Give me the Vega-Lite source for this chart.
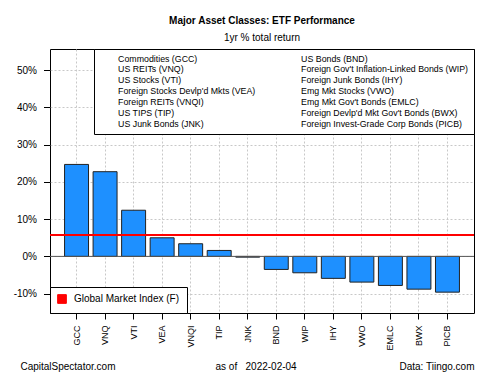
{
  "$schema": "https://vega.github.io/schema/vega-lite/v6.json",
  "width": 424,
  "height": 264,
  "autosize": {"type": "none"},
  "padding": {"left": 50, "top": 49, "right": 26, "bottom": 62},
  "background": "white",
  "config": {
    "font": "Liberation Sans",
    "view": {"stroke": "black", "strokeWidth": 1}
  },
  "title": {
    "text": "Major Asset Classes: ETF Performance",
    "subtitle": "1yr % total return",
    "font": "Liberation Sans",
    "subtitleFont": "Liberation Sans",
    "fontSize": 10,
    "fontWeight": "bold",
    "subtitleFontSize": 10,
    "color": "black",
    "subtitleColor": "black",
    "anchor": "middle",
    "offset": 6,
    "subtitlePadding": 7
  },
  "datasets": {
    "etf": [
      {"ticker": "GCC", "name": "Commodities (GCC)", "ret": 24.7},
      {"ticker": "VNQ", "name": "US REITs (VNQ)", "ret": 22.75},
      {"ticker": "VTI", "name": "US Stocks (VTI)", "ret": 12.4},
      {"ticker": "VEA", "name": "Foreign Stocks Devlp'd Mkts (VEA)", "ret": 5.0},
      {"ticker": "VNQI", "name": "Foreign REITs (VNQI)", "ret": 3.4},
      {"ticker": "TIP", "name": "US TIPS (TIP)", "ret": 1.6},
      {"ticker": "JNK", "name": "US Junk Bonds (JNK)", "ret": -0.2},
      {"ticker": "BND", "name": "US Bonds (BND)", "ret": -3.5},
      {"ticker": "WIP", "name": "Foreign Gov't Inflation-Linked Bonds (WIP)", "ret": -4.4},
      {"ticker": "IHY", "name": "Foreign Junk Bonds (IHY)", "ret": -5.9},
      {"ticker": "VWO", "name": "Emg Mkt Stocks (VWO)", "ret": -6.9},
      {"ticker": "EMLC", "name": "Emg Mkt Gov't Bonds (EMLC)", "ret": -7.8},
      {"ticker": "BWX", "name": "Foreign Devlp'd Mkt Gov't Bonds (BWX)", "ret": -8.8},
      {"ticker": "PICB", "name": "Foreign Invest-Grade Corp Bonds (PICB)", "ret": -9.6}
    ],
    "gmi": [{"name": "Global Market Index (F)", "ret": 5.75}],
    "zero": [{"v": 0}]
  },
  "layer": [
    {
      "data": {"name": "etf"},
      "mark": {"type": "bar", "fill": "#1E90FF", "stroke": "#222222", "strokeWidth": 1},
      "encoding": {
        "x": {
          "field": "ticker",
          "type": "nominal",
          "sort": null,
          "scale": {"paddingInner": 0.16, "paddingOuter": 0.51},
          "axis": {
            "title": "CapitalSpectator.com\u00a0\u00a0\u00a0\u00a0\u00a0\u00a0\u00a0\u00a0\u00a0\u00a0\u00a0\u00a0\u00a0\u00a0\u00a0\u00a0\u00a0\u00a0\u00a0\u00a0\u00a0\u00a0\u00a0\u00a0\u00a0\u00a0\u00a0\u00a0\u00a0\u00a0\u00a0\u00a0\u00a0\u00a0\u00a0\u00a0as of\u00a0\u00a0\u00a02022-02-04\u00a0\u00a0\u00a0\u00a0\u00a0\u00a0\u00a0\u00a0\u00a0\u00a0\u00a0\u00a0\u00a0\u00a0\u00a0\u00a0\u00a0\u00a0\u00a0\u00a0\u00a0\u00a0\u00a0\u00a0\u00a0\u00a0\u00a0\u00a0\u00a0\u00a0\u00a0\u00a0\u00a0\u00a0\u00a0\u00a0\u00a0Data: Tiingo.com",
            "titleAnchor": "end",
            "titleAlign": "right",
            "titleFontSize": 10,
            "titleFontWeight": "normal",
            "titleColor": "black",
            "titlePadding": 11,
            "titleLimit": 2000,
            "labelAngle": 270,
            "labelFontSize": 9,
            "labelColor": "black",
            "tickSize": 6,
            "tickColor": "black",
            "labelPadding": 6,
            "domain": false,
            "grid": true,
            "gridColor": "#c8c8c8",
            "gridDash": [2, 2],
            "bandPosition": 0.5
          }
        },
        "y": {
          "field": "ret",
          "type": "quantitative",
          "scale": {"domain": [-15.2, 55.7], "nice": false},
          "axis": {
            "values": [-10, 0, 10, 20, 30, 40, 50],
            "labelExpr": "datum.value + '%'",
            "title": null,
            "domain": false,
            "tickSize": 6.5,
            "tickColor": "black",
            "labelPadding": 7,
            "labelFontSize": 10,
            "labelColor": "black",
            "grid": true,
            "gridColor": "#c8c8c8",
            "gridDash": [2, 2]
          }
        },
        "y2": {"datum": 0},
        "opacity": {
          "field": "name",
          "type": "nominal",
          "scale": {
            "type": "ordinal",
            "domain": [
              "Commodities (GCC)", "US REITs (VNQ)", "US Stocks (VTI)",
              "Foreign Stocks Devlp'd Mkts (VEA)", "Foreign REITs (VNQI)",
              "US TIPS (TIP)", "US Junk Bonds (JNK)",
              "US Bonds (BND)", "Foreign Gov't Inflation-Linked Bonds (WIP)",
              "Foreign Junk Bonds (IHY)", "Emg Mkt Stocks (VWO)",
              "Emg Mkt Gov't Bonds (EMLC)", "Foreign Devlp'd Mkt Gov't Bonds (BWX)",
              "Foreign Invest-Grade Corp Bonds (PICB)"
            ],
            "range": [1, 1, 1, 1, 1, 1, 1, 1, 1, 1, 1, 1, 1, 1]
          },
          "legend": {
            "title": null,
            "orient": "top-right",
            "offset": 0,
            "columns": 2,
            "columnPadding": 26,
            "rowPadding": 0.9,
            "padding": 5,
            "strokeColor": "black",
            "fillColor": "white",
            "labelFontSize": 8.8,
            "labelColor": "black",
            "labelLimit": 400,
            "labelOffset": 10.3,
            "symbolSize": 0,
            "symbolType": "square",
            "symbolOpacity": 0,
            "symbolStrokeWidth": 0,
            "symbolFillColor": "white",
            "symbolStrokeColor": "white"
          }
        }
      }
    },
    {
      "data": {"name": "zero"},
      "mark": {"type": "rule", "color": "#555555", "strokeWidth": 1},
      "encoding": {"y": {"field": "v", "type": "quantitative"}}
    },
    {
      "data": {"name": "gmi"},
      "mark": {"type": "rule", "strokeWidth": 2},
      "encoding": {
        "y": {"field": "ret", "type": "quantitative"},
        "color": {
          "field": "name",
          "type": "nominal",
          "scale": {"domain": ["Global Market Index (F)"], "range": ["#FF0000"]},
          "legend": {
            "title": null,
            "orient": "bottom-left",
            "offset": 0,
            "padding": 7,
            "strokeColor": "black",
            "fillColor": "white",
            "labelFontSize": 10,
            "labelColor": "black",
            "labelOffset": 7,
            "symbolType": "square",
            "symbolSize": 76,
            "symbolFillColor": "#FF0000",
            "symbolStrokeColor": "black",
            "symbolStrokeWidth": 1,
            "encode": {
              "symbols": {
                "update": {
                  "fill": {"value": "#FF0000"},
                  "stroke": {"value": "black"},
                  "strokeWidth": {"value": 1},
                  "shape": {"value": "square"},
                  "opacity": {"value": 1}
                }
              }
            }
          }
        }
      }
    }
  ]
}
